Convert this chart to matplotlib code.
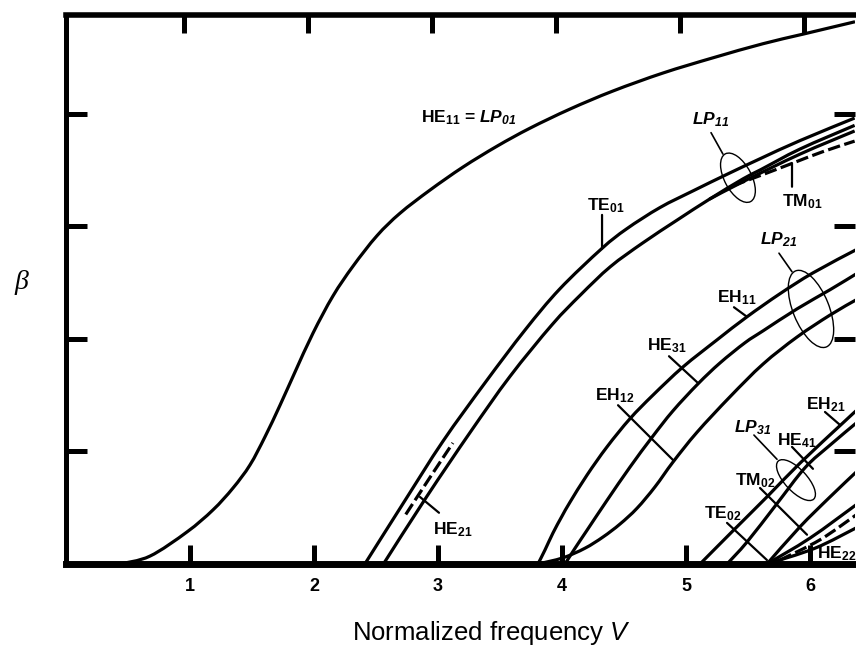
import matplotlib
matplotlib.use("Agg")
import numpy as np
import matplotlib.pyplot as plt
from matplotlib.patches import Ellipse, PathPatch
from matplotlib.path import Path
from matplotlib.transforms import ScaledTranslation

plt.rcParams["font.family"] = ["Liberation Sans", "DejaVu Sans"]
plt.rcParams["mathtext.fontset"] = "custom"
plt.rcParams["mathtext.rm"] = "Liberation Sans"
plt.rcParams["mathtext.it"] = "Liberation Sans:italic"
plt.rcParams["mathtext.bf"] = "Liberation Sans:bold"
plt.rcParams["mathtext.bfit"] = "Liberation Sans:italic:bold"

# ---- normalized propagation constant b versus normalized frequency V ----
he11_v = [0.435, 0.677, 0.976, 1.185, 1.347, 1.484, 1.605, 1.726, 1.847, 1.992, 2.153,
          2.315, 2.508, 2.694, 2.935, 3.202, 3.476, 3.742, 4.065, 4.411, 4.815, 5.218,
          5.621, 5.944, 6.363]
he11_b = [0.000, 0.014, 0.057, 0.096, 0.135, 0.176, 0.226, 0.282, 0.341, 0.410, 0.476,
          0.529, 0.583, 0.623, 0.664, 0.705, 0.742, 0.774, 0.808, 0.840, 0.872, 0.899,
          0.924, 0.941, 0.963]

# LP11 group
te01_v = [2.41, 2.72, 3.04, 3.38, 3.70, 3.98, 4.32, 4.52, 4.79, 5.06, 5.33, 5.60, 5.92, 6.36]
te01_b = [0.000, 0.108, 0.218, 0.322, 0.415, 0.488, 0.560, 0.595, 0.633, 0.663, 0.692, 0.720, 0.752, 0.792]

he21_v = [2.56, 2.91, 3.26, 3.58, 3.92, 4.15, 4.39, 4.65, 4.93, 5.19, 5.46, 5.60, 5.92, 6.36]
he21_b = [0.000, 0.120, 0.234, 0.333, 0.425, 0.478, 0.528, 0.570, 0.611, 0.648, 0.684, 0.700, 0.737, 0.779]

he21b_v = [5.19, 5.46, 5.92, 6.36]
he21b_b = [0.648, 0.679, 0.728, 0.769]

he21_dash_v = [2.74, 2.93, 3.12]
he21_dash_b = [0.088, 0.152, 0.215]

tm01_v = [5.38, 5.60, 5.85, 6.10, 6.36]
tm01_b = [0.672, 0.690, 0.711, 0.732, 0.751]

# LP21 / LP02 group
eh11_v = [3.806, 3.863, 3.927, 4.000, 4.065, 4.202, 4.363, 4.548, 4.734, 4.976, 5.250,
          5.492, 5.758, 6.024, 6.371]
eh11_b = [0.000, 0.025, 0.055, 0.085, 0.110, 0.158, 0.208, 0.258, 0.300, 0.350, 0.398,
          0.439, 0.480, 0.517, 0.558]

he31_v = [4.024, 4.105, 4.202, 4.363, 4.548, 4.726, 4.895, 5.097, 5.274, 5.476, 5.621,
          5.895, 6.161, 6.371]
he31_b = [0.000, 0.028, 0.060, 0.113, 0.172, 0.225, 0.272, 0.320, 0.357, 0.393, 0.414,
          0.453, 0.487, 0.515]

eh12_v = [3.806, 4.008, 4.185, 4.331, 4.468, 4.605, 4.750, 4.895, 5.089, 5.355, 5.621,
          5.895, 6.161, 6.371]
eh12_b = [0.000, 0.011, 0.028, 0.048, 0.071, 0.099, 0.137, 0.181, 0.234, 0.297, 0.355,
          0.403, 0.442, 0.469]

# LP31 / LP12 group
eh21_v = [5.113, 5.379, 5.661, 5.919, 6.258, 6.371]
eh21_b = [0.000, 0.059, 0.121, 0.179, 0.249, 0.272]

he41_v = [5.331, 5.492, 5.726, 5.960, 6.161, 6.371]
he41_b = [0.000, 0.039, 0.105, 0.171, 0.211, 0.250]

tm02_v = [5.653, 5.919, 6.161, 6.371]
tm02_b = [0.000, 0.066, 0.119, 0.163]

te02_v = [5.653, 6.000, 6.371]
te02_b = [0.000, 0.046, 0.105]

he22_v = [5.653, 6.040, 6.371]
he22_b = [0.000, 0.028, 0.064]

he22_dash_v = [5.758, 6.081, 6.371]
he22_dash_b = [0.007, 0.043, 0.087]

x_ticks = [1, 2, 3, 4, 5, 6]
y_ticks = [0.2, 0.4, 0.6, 0.8]


def curve_path(v, b):
    """Smooth Catmull-Rom style Bezier path through the given points."""
    p = np.column_stack([v, b]).astype(float)
    n = len(p)
    verts = [p[0]]
    codes = [Path.MOVETO]
    for i in range(n - 1):
        p0 = p[i - 1] if i > 0 else p[i]
        p1, p2 = p[i], p[i + 1]
        p3 = p[i + 2] if i + 2 < n else p[i + 1]
        verts += [p1 + (p2 - p0) / 6.0, p2 - (p3 - p1) / 6.0, p2]
        codes += [Path.CURVE4] * 3
    return Path(verts, codes)


# ---- figure ----
fig = plt.figure(figsize=(8.56, 6.46), dpi=100)
ax = fig.add_axes([66 / 856, 82 / 646, 789 / 856, 549 / 646])
ax.set_xlim(0, 6.363)
ax.set_ylim(0, 0.975)

LW = 2.3
solid_curves = [(he11_v, he11_b), (te01_v, te01_b), (he21_v, he21_b), (he21b_v, he21b_b),
                (eh11_v, eh11_b), (he31_v, he31_b), (eh12_v, eh12_b),
                (eh21_v, eh21_b), (he41_v, he41_b), (tm02_v, tm02_b), (te02_v, te02_b),
                (he22_v, he22_b)]
dashed_curves = [(tm01_v, tm01_b), (he21_dash_v, he21_dash_b), (he22_dash_v, he22_dash_b)]

for v, b in solid_curves:
    ax.add_patch(PathPatch(curve_path(v, b), fill=False, lw=LW, edgecolor="black",
                           capstyle="butt", clip_on=True))
for v, b in dashed_curves:
    ax.add_patch(PathPatch(curve_path(v, b), fill=False, lw=LW, edgecolor="black",
                           capstyle="butt", linestyle=(0, (3.9, 1.4)), clip_on=True))

# spines and ticks
ax.spines["right"].set_visible(False)
ax.spines["left"].set_linewidth(3.6)
ax.spines["top"].set_linewidth(4.0)
ax.spines["bottom"].set_linewidth(5.0)
ax.set_xticks(x_ticks)
ax.set_xticklabels([str(t) for t in x_ticks], fontsize=13, fontweight="bold")
ax.set_yticks(y_ticks)
ax.tick_params(axis="x", direction="in", length=13.7, width=3.6, pad=10, top=False)
ax.tick_params(axis="y", direction="in", length=15.0, width=3.6, left=True, right=True,
               labelleft=False, labelright=False)

top = ax.twiny()
top.set_xlim(ax.get_xlim())
top.set_xticks([t - 0.05 for t in x_ticks])
top.tick_params(axis="x", direction="in", length=13.3, width=3.6, labeltop=False)
for s in top.spines.values():
    s.set_visible(False)

# mode labels
lab = dict(fontsize=12.5, fontweight="bold", ha="left", va="baseline")
ax.text(2.863, 0.785, r"$\mathbf{HE}_{\mathbf{11}}$ = $\mathbfit{LP}_{\mathbfit{01}}$", **lab)
ax.text(5.048, 0.780, r"$\mathbfit{LP}_{\mathbfit{11}}$", **lab)
ax.text(5.774, 0.636, r"$\mathbf{TM}_{\mathbf{01}}$", **lab)
ax.text(4.202, 0.629, r"$\mathbf{TE}_{\mathbf{01}}$", **lab)
ax.text(5.597, 0.567, r"$\mathbfit{LP}_{\mathbfit{21}}$", **lab)
ax.text(5.250, 0.464, r"$\mathbf{EH}_{\mathbf{11}}$", **lab)
ax.text(4.685, 0.380, r"$\mathbf{HE}_{\mathbf{31}}$", **lab)
ax.text(4.266, 0.291, r"$\mathbf{EH}_{\mathbf{12}}$", **lab)
ax.text(5.968, 0.274, r"$\mathbf{EH}_{\mathbf{21}}$", **lab)
ax.text(5.387, 0.234, r"$\mathbfit{LP}_{\mathbfit{31}}$", **lab)
ax.text(5.734, 0.211, r"$\mathbf{HE}_{\mathbf{41}}$", **lab)
ax.text(5.395, 0.140, r"$\mathbf{TM}_{\mathbf{02}}$", **lab)
ax.text(5.145, 0.082, r"$\mathbf{TE}_{\mathbf{02}}$", **lab)
ax.text(6.056, 0.011, r"$\mathbf{HE}_{\mathbf{22}}$", **lab)
ax.text(2.960, 0.052, r"$\mathbf{HE}_{\mathbf{21}}$", **lab)

# leader lines
leaders = [
    ((5.202, 0.766), (5.298, 0.728), 1.2),
    ((5.855, 0.712), (5.855, 0.670), 1.6),
    ((4.323, 0.620), (4.323, 0.560), 1.6),
    ((5.750, 0.552), (5.855, 0.519), 1.2),
    ((5.387, 0.456), (5.492, 0.439), 1.6),
    ((4.863, 0.369), (5.089, 0.323), 1.6),
    ((4.452, 0.282), (4.903, 0.183), 1.6),
    ((6.121, 0.270), (6.242, 0.247), 1.6),
    ((5.855, 0.208), (6.024, 0.169), 1.6),
    ((5.548, 0.229), (5.734, 0.186), 1.2),
    ((5.597, 0.135), (5.976, 0.052), 1.6),
    ((5.331, 0.073), (5.653, 0.007), 1.6),
    ((2.855, 0.119), (3.008, 0.091), 1.6),
]
for p0, p1, w in leaders:
    ax.annotate("", xy=p1, xytext=p0,
                arrowprops=dict(arrowstyle="-", lw=w, color="black", shrinkA=0, shrinkB=0))

# group ellipses (sizes in inches, centred on a data point)
for cx, cy, major, minor, ang in [(5.419, 0.686, 0.54, 0.27, -62),
                                  (6.008, 0.453, 0.82, 0.36, -68),
                                  (5.887, 0.149, 0.52, 0.22, -47)]:
    tr = fig.dpi_scale_trans + ScaledTranslation(cx, cy, ax.transData)
    ax.add_patch(Ellipse((0, 0), major, minor, angle=ang, transform=tr,
                         fill=False, lw=1.0, color="black"))

# axis titles
fig.text(352 / 856, 6 / 646, r"Normalized frequency $\mathit{V}$", fontsize=18.5,
         ha="left", va="baseline")
fig.text(21 / 856, (646 - 283) / 646, "β", fontsize=20, fontstyle="italic",
         family=["Liberation Serif", "DejaVu Serif"], ha="center", va="center")

fig.savefig("out.png", dpi=100)
